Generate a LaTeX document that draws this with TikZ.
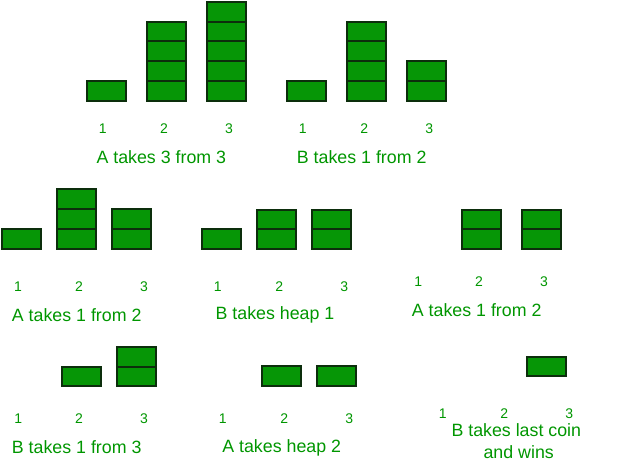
\documentclass[tikz,border=0pt]{standalone}
\usepackage{fontspec}
\setmainfont{Liberation Sans}
\definecolor{coinfill}{RGB}{6,150,6}
\definecolor{coinedge}{RGB}{12,46,12}
\definecolor{txtgreen}{RGB}{0,150,0}
\newcommand{\heapstack}[4]{%
  \foreach \k in {1,...,#4}{\node[coin] (#1-\k) at (#2,{#3-19.7*(\k-1)}) {};}}
\begin{document}
\begin{tikzpicture}[x=1pt,y=-1pt,
  coin/.style={draw=coinedge,fill=coinfill,line width=2pt,minimum width=39pt,
    minimum height=19.7pt,inner sep=0pt,outer sep=0pt,anchor=south},
  heapnum/.style={text=txtgreen,font=\fontsize{14}{16}\selectfont,anchor=base,inner sep=0pt},
  caption/.style={text=txtgreen,font=\fontsize{17.8}{21}\selectfont,anchor=base,inner sep=0pt}]
\useasboundingbox (0,0) rectangle (637,464);
% Panel 1
\heapstack{pa1}{106.2}{100.5}{1}
\heapstack{pa2}{166.3}{100.5}{4}
\heapstack{pa3}{226.3}{100.5}{5}
\node[heapnum] (na1) at (102.7,133) {1};
\node[heapnum] (na2) at (164,133) {2};
\node[heapnum] (na3) at (229,133) {3};
\node[caption] (ca) at (161.3,163.7) {A takes 3 from 3};
% Panel 2
\heapstack{pb1}{306.2}{100.5}{1}
\heapstack{pb2}{366.3}{100.5}{4}
\heapstack{pb3}{426.3}{100.5}{2}
\node[heapnum] (nb1) at (302.7,133) {1};
\node[heapnum] (nb2) at (364.3,133) {2};
\node[heapnum] (nb3) at (429.3,133) {3};
\node[caption] (cb) at (361.7,163.7) {B takes 1 from 2};
% Panel 3
\heapstack{pc1}{21.3}{248.5}{1}
\heapstack{pc2}{76.3}{248.5}{3}
\heapstack{pc3}{131.3}{248.5}{2}
\node[heapnum] (nc1) at (18,291.7) {1};
\node[heapnum] (nc2) at (79,291.7) {2};
\node[heapnum] (nc3) at (144,291.7) {3};
\node[caption] (cc) at (76.7,321.4) {A takes 1 from 2};
% Panel 4
\heapstack{pd1}{221.2}{249}{1}
\heapstack{pd2}{276.2}{249}{2}
\heapstack{pd3}{331.2}{249}{2}
\node[heapnum] (nd1) at (217.7,291) {1};
\node[heapnum] (nd2) at (279.3,291) {2};
\node[heapnum] (nd3) at (344.3,291) {3};
\node[caption] (cd) at (275,319.7) {B takes heap 1};
% Panel 5
\heapstack{pe2}{481.2}{249}{2}
\heapstack{pe3}{541.5}{249}{2}
\node[heapnum] (ne1) at (418.3,286.7) {1};
\node[heapnum] (ne2) at (479,286.7) {2};
\node[heapnum] (ne3) at (544,286.7) {3};
\node[caption] (ce) at (476.7,316.4) {A takes 1 from 2};
% Panel 6
\heapstack{pf2}{81.2}{386.3}{1}
\heapstack{pf3}{136.5}{386.3}{2}
\node[heapnum] (nf1) at (18.3,423.3) {1};
\node[heapnum] (nf2) at (79,423.3) {2};
\node[heapnum] (nf3) at (144,423.3) {3};
\node[caption] (cf) at (76.7,453.4) {B takes 1 from 3};
% Panel 7
\heapstack{pg2}{281.2}{385.7}{1}
\heapstack{pg3}{336.5}{385.7}{1}
\node[heapnum] (ng1) at (222.7,423.7) {1};
\node[heapnum] (ng2) at (284.3,423.7) {2};
\node[heapnum] (ng3) at (349.3,423.7) {3};
\node[caption] (cg) at (281.7,452.7) {A takes heap 2};
% Panel 8
\heapstack{ph3}{546.3}{376.3}{1}
\node[heapnum] (nh1) at (442.7,418) {1};
\node[heapnum] (nh2) at (504.3,418) {2};
\node[heapnum] (nh3) at (569.3,418) {3};
\node[caption] (ch1) at (516.3,436.7) {B takes last coin};
\node[caption] (ch2) at (518.7,458.1) {and wins};
\end{tikzpicture}
\end{document}
